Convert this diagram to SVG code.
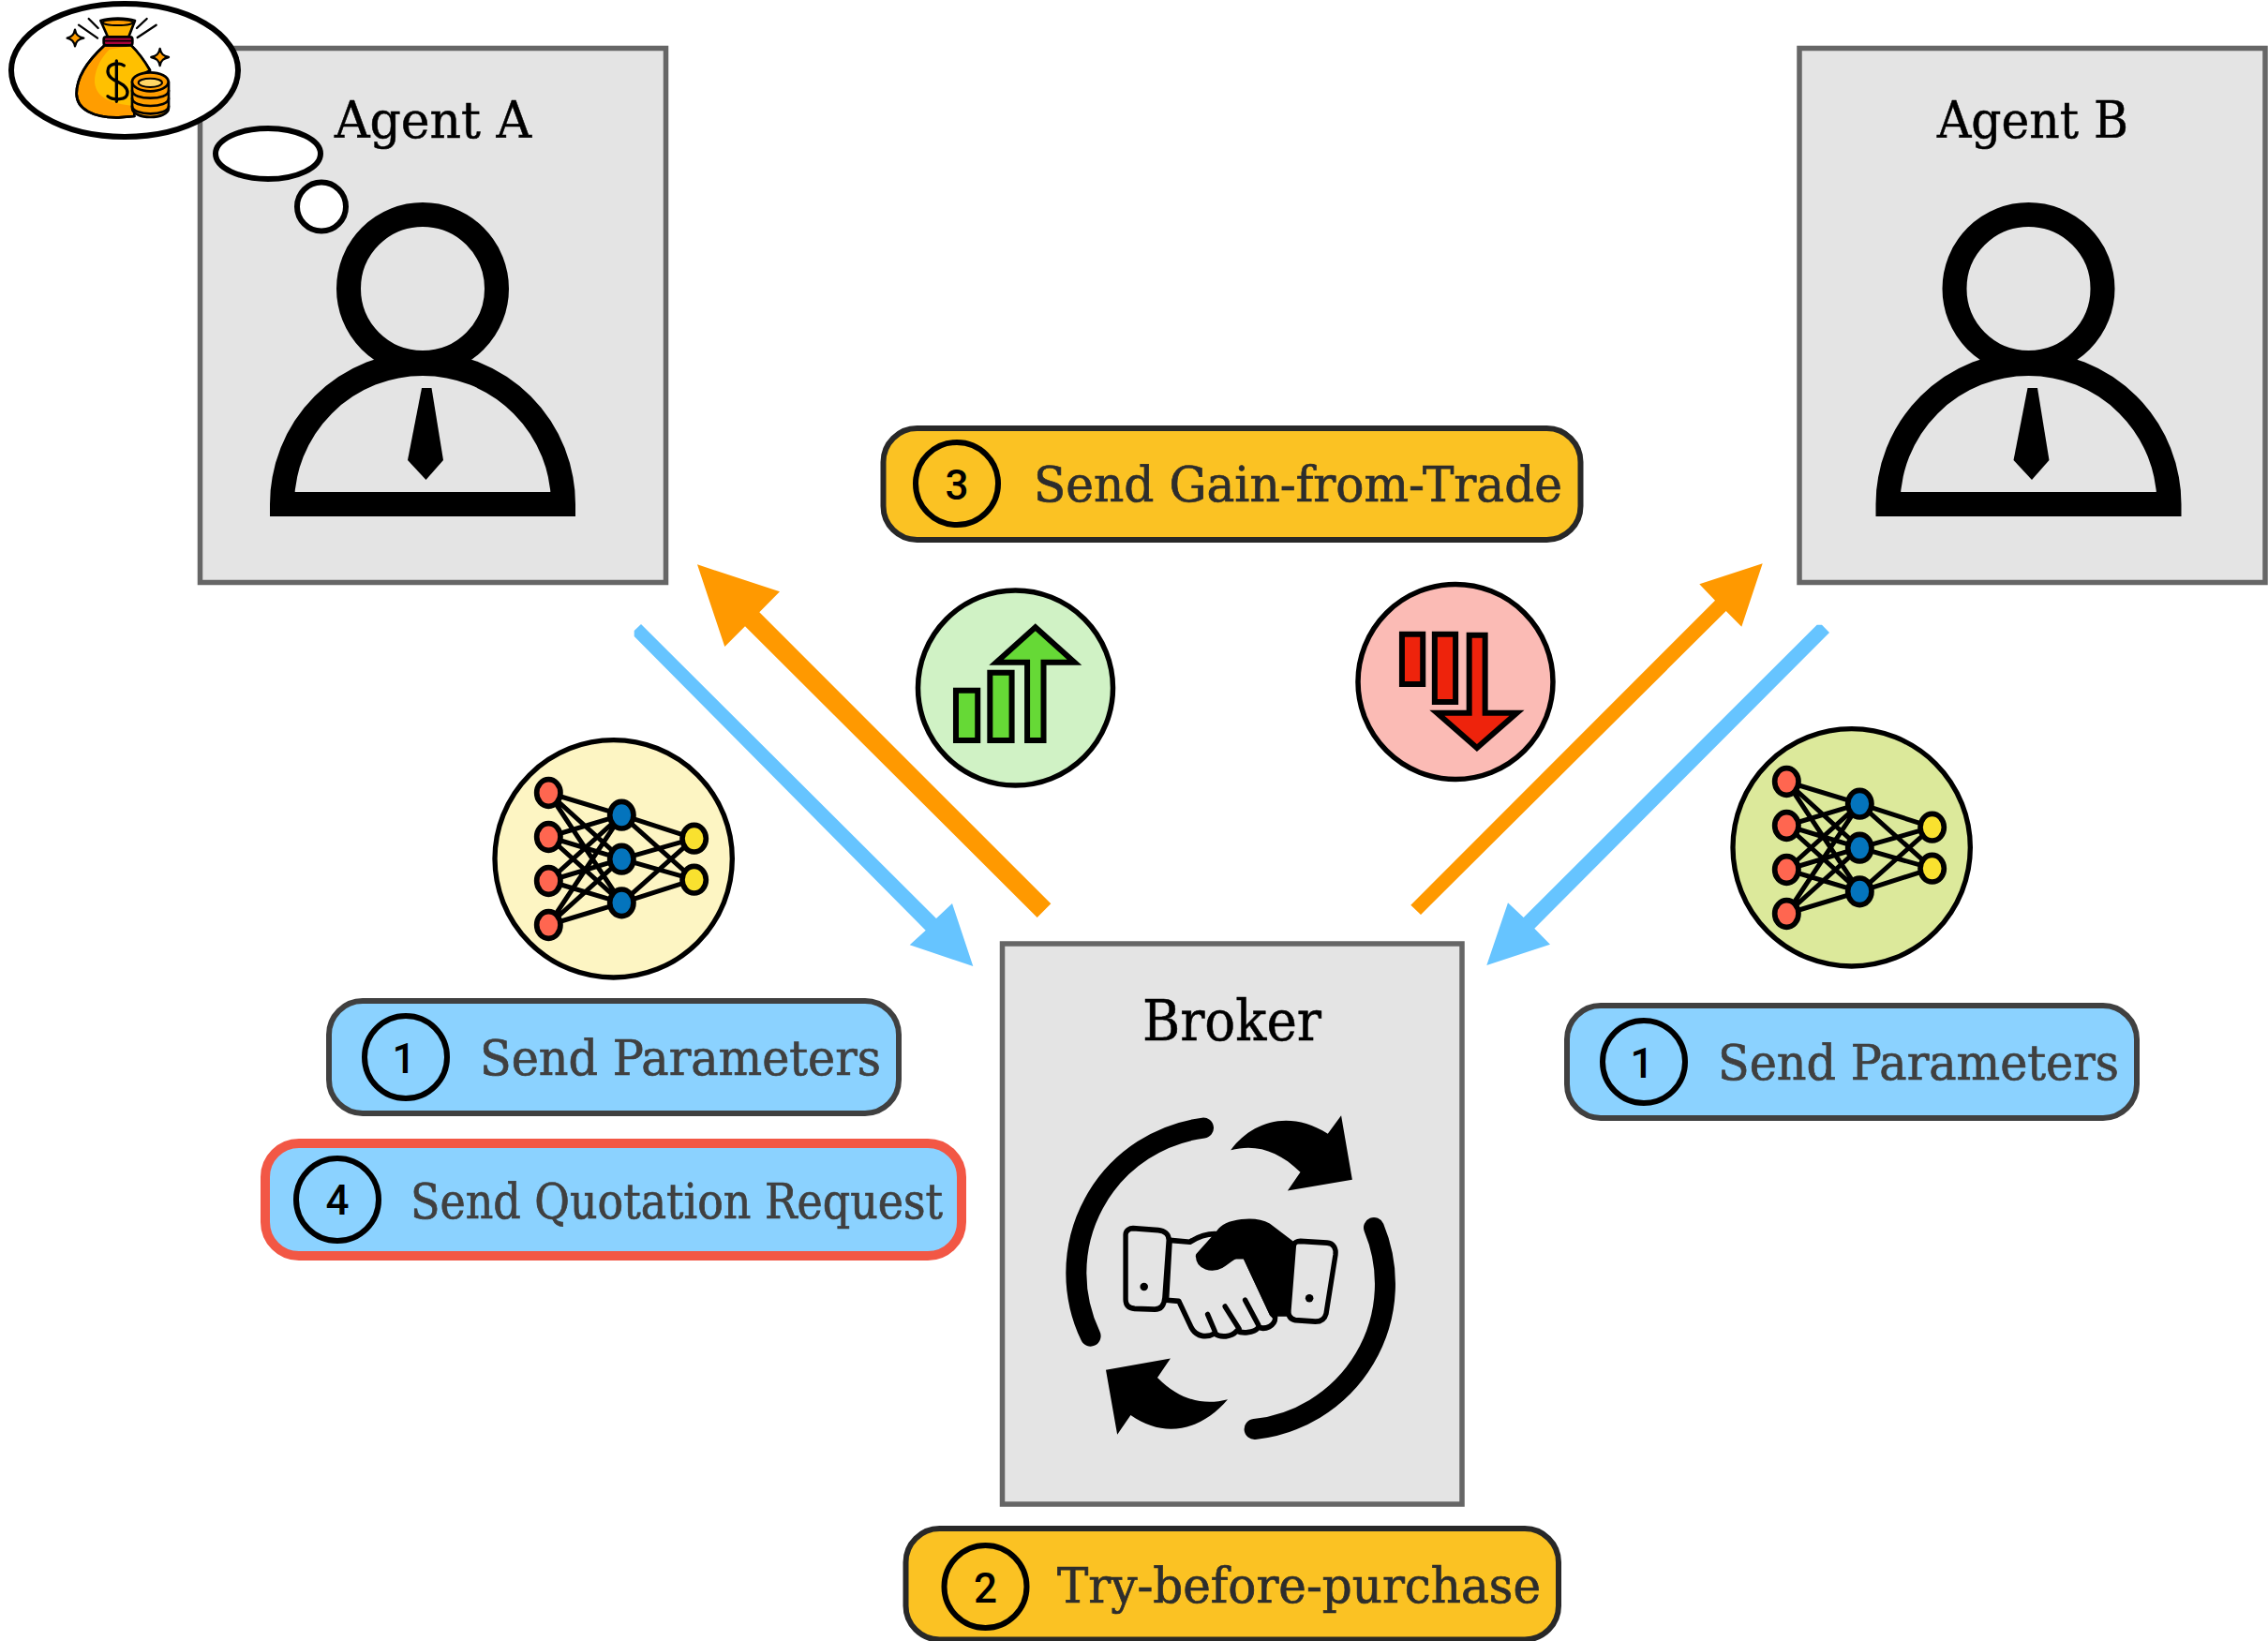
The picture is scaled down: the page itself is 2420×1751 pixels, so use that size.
<svg xmlns="http://www.w3.org/2000/svg" xmlns:xlink="http://www.w3.org/1999/xlink" width="2420" height="1751" viewBox="0 0 2420 1751">
<style>
.box{fill:#e4e4e4;stroke:#666;stroke-width:5.500}
.title{font-family:"DejaVu Serif Condensed","DejaVu Serif",serif;fill:#000;stroke:#000;stroke-width:.5}
.lab{font-family:"DejaVu Serif Condensed","DejaVu Serif",serif;font-size:53px;stroke-width:.7}
.num{font-family:Roboto,"Liberation Sans",sans-serif;font-size:44px;font-weight:500;text-anchor:middle;fill:#000}
.pill{stroke-width:6}
.ring{fill:none;stroke:#000;stroke-width:6}
</style>
<defs>
<g id="person">
<circle cx="451" cy="308" r="79" fill="none" stroke="#000" stroke-width="26"/>
<path d="M301 538A150 150 0 0 1 601 538Z" fill="none" stroke="#000" stroke-width="26"/>
<path d="M450 414H460.500L473 491 454.500 512 435 491Z" fill="#000"/>
</g>
<g id="nn">
<path stroke="#000" stroke-width="15" fill="none" d="M316 258L550 329M316 258L550 470M316 258L550 610M316 399L550 329M316 399L550 470M316 399L550 610M316 540L550 329M316 540L550 470M316 540L550 610M316 681L550 329M316 681L550 470M316 681L550 610M550 329L782 404M550 329L782 536M550 470L782 404M550 470L782 536M550 610L782 404M550 610L782 536"/>
<g stroke="#000" stroke-width="17">
<g fill="#ff6650"><ellipse cx="316" cy="258" rx="38" ry="43"/><ellipse cx="316" cy="399" rx="38" ry="43"/><ellipse cx="316" cy="540" rx="38" ry="43"/><ellipse cx="316" cy="681" rx="38" ry="43"/></g>
<g fill="#0474bd"><ellipse cx="550" cy="329" rx="38" ry="43"/><ellipse cx="550" cy="470" rx="38" ry="43"/><ellipse cx="550" cy="610" rx="38" ry="43"/></g>
<g fill="#f9e12f"><ellipse cx="782" cy="404" rx="38" ry="43"/><ellipse cx="782" cy="536" rx="38" ry="43"/></g>
</g>
</g>
</defs>

<g id="agent-a">
<rect class="box" x="213.500" y="51.500" width="497" height="570"/>
<text class="title" x="357" y="147" font-size="55" textLength="210" lengthAdjust="spacingAndGlyphs">Agent A</text>
<use xlink:href="#person"/>
<ellipse cx="286" cy="164" rx="56" ry="27" fill="#fff" stroke="#000" stroke-width="6"/>
<circle cx="343" cy="220.500" r="26" fill="#fff" stroke="#000" stroke-width="6"/>
</g>

<g id="money-thought">
<ellipse cx="133" cy="75" rx="121" ry="71" fill="#fff" stroke="#000" stroke-width="6"/>
<g transform="scale(.33333)" stroke="#000" stroke-linejoin="round" stroke-linecap="round">
<path d="M335 145C280 195 245 250 245 300C245 350 300 378 380 376L430 372V250L480 225C460 190 440 165 420 145Z" fill="#ff9d00" stroke-width="8"/>
<path d="M350 158C315 195 303 230 303 262C305 300 335 330 420 338V250L478 222C460 190 440 170 418 148Z" fill="#ffc000" stroke="none"/>
<path d="M335 145C280 195 245 250 245 300C245 350 300 378 380 376L430 372M420 145C440 165 460 190 480 225" fill="none" stroke-width="8"/>
<path d="M322 66C350 56 405 56 432 66L412 118H345Z" fill="#ffb400" stroke-width="8"/>
<ellipse cx="377" cy="72" rx="48" ry="9" fill="#ff9d00" stroke-width="6"/>
<rect x="332" y="118" width="92" height="27" rx="8" fill="#a8003a" stroke-width="8"/>
<path d="M332 131H424" stroke-width="5" fill="none"/>
<path d="M397 210C385 200 345 200 345 228C345 262 408 262 408 296C408 322 362 322 345 308M373 195V325" fill="none" stroke-width="10"/>
<path d="M423 262V345C423 385 540 385 540 345V262Z" fill="#ff9d00" stroke-width="8"/>
<path d="M423 290C423 322 540 322 540 290M423 315C423 347 540 347 540 315M423 340C423 372 540 372 540 340" fill="none" stroke-width="8"/>
<ellipse cx="481" cy="262" rx="58" ry="30" fill="#ff9d00" stroke-width="8"/>
<ellipse cx="481" cy="265" rx="38" ry="14" fill="#ffd766" stroke-width="6"/>
<path d="M240 95C243 112 250 119 268 122C250 125 243 132 240 148C237 132 230 125 215 122C230 119 237 112 240 95Z" fill="#ff9d00" stroke-width="7"/>
<path d="M512 156C515 172 522 179 540 183C522 187 515 194 512 210C509 194 502 187 484 183C502 179 509 172 512 156Z" fill="#ff9d00" stroke-width="7"/>
<path d="M252 80L312 122M284 60L314 90M440 120L500 80M438 90L470 60" fill="none" stroke-width="7"/>
</g>
</g>

<g id="agent-b">
<rect class="box" x="1920" y="51.500" width="497" height="570"/>
<text class="title" x="2067" y="147" font-size="55" textLength="204" lengthAdjust="spacingAndGlyphs">Agent B</text>
<use xlink:href="#person" x="1713.500"/>
</g>

<g id="broker">
<rect class="box" x="1069.500" y="1007" width="490.500" height="598"/>
<text class="title" x="1219" y="1110" font-size="59" textLength="191" lengthAdjust="spacingAndGlyphs">Broker</text>
<path d="M1284 1203.600A156 156 0 0 0 1163.600 1425.600M1466 1310A156 156 0 0 1 1338.600 1525" fill="none" stroke="#000" stroke-width="22" stroke-linecap="round"/>
<g transform="translate(1050 1000) scale(.35714 .38265)">
<path d="M737 594C800 515 910 480 1027 548L1067 497 1100 676 907 707 945 655C880 595 810 575 737 594Z"/>
<path d="M728 1289C650 1375 540 1400 438 1333L398 1387 364 1207 557 1175 518 1228C590 1295 660 1305 728 1289Z"/>
<g fill="#e4e4e4" stroke="#000" stroke-width="15" stroke-linejoin="round">
<path d="M555 845L615 850C640 835 665 825 700 828L640 890 780 890 860 1050 870 1060C870 1085 840 1095 820 1088C805 1105 770 1105 755 1098C740 1115 705 1118 690 1105C665 1118 635 1115 620 1090L582 1015 545 1012Z"/>
<path d="M700 825C725 790 810 785 850 805L920 855 910 1050 860 1050 780 890C760 875 735 900 710 915C680 930 640 920 640 888Z" fill="#000"/>
<path d="M668 1052L690 1100M720 1030L762 1092M780 1012L820 1082" fill="none" stroke-linecap="round"/>
<path d="M423 830C423 818 435 812 445 812L520 817C540 818 553 830 552 845L540 1005C538 1030 525 1038 510 1038L450 1036C430 1034 423 1025 423 1010Z"/>
<path d="M925 862C925 852 935 848 945 848L1025 852C1045 853 1052 870 1050 885L1022 1050C1018 1065 1005 1072 990 1072L930 1068C915 1065 908 1055 910 1040Z"/>
</g>
<ellipse cx="478" cy="975" rx="12" ry="11"/><ellipse cx="972" cy="1007" rx="12" ry="11"/>
</g>
</g>

<g id="connectors">
<path d="M684 666L999 980 1016 964 1038.300 1031 970.700 1008.300 987.700 992.700 676.700 679V673Z" fill="#66c4ff"/>
<path d="M744 602.300L832 631.300 810.300 653.300 1121.300 964.300 1106.700 979 795 668.300 773.300 690Z" fill="#ff9900"/>
<path d="M1505.300 965.700L1830 640.700 1813.300 623.300 1880.700 601.300 1858.300 668.700 1841.700 652 1516 976Z" fill="#ff9900"/>
<path d="M1938.700 666.700H1944L1952 675 1637.300 990.700 1654 1007.700 1586.300 1030 1609 963.300 1625.700 979Z" fill="#66c4ff"/>
</g>

<g id="nn-left">
<g transform="translate(480 760) scale(.33333)"><circle cx="524" cy="469" r="380" fill="#fdf5c3" stroke="#000" stroke-width="16"/><use xlink:href="#nn"/></g>
</g>
<g id="nn-right">
<g transform="translate(1801 748) scale(.33333)"><circle cx="524" cy="469" r="380" fill="#dce99b" stroke="#000" stroke-width="16"/><use xlink:href="#nn"/></g>
</g>

<g id="gain-up">
<circle cx="1083.500" cy="734" r="104" fill="#d0f2c5" stroke="#000" stroke-width="5.500"/>
<g transform="translate(940 430) scale(.48469 .33333)" fill="#66d936" stroke="#000">
<rect x="165" y="920" width="48" height="160" vector-effect="non-scaling-stroke" stroke-width="6"/>
<rect x="240" y="863" width="48" height="217" vector-effect="non-scaling-stroke" stroke-width="6"/>
<path d="M322 1080H358V830H426L340 718 254 830H322Z" vector-effect="non-scaling-stroke" stroke-width="6"/>
</g>
</g>

<g id="loss-down">
<circle cx="1553" cy="727.500" r="104" fill="#fbbbb5" stroke="#000" stroke-width="5.500"/>
<g transform="translate(940 430) scale(.48469 .33333)" fill="#ee230c" stroke="#000">
<rect x="1147" y="740" width="46" height="160" vector-effect="non-scaling-stroke" stroke-width="6"/>
<rect x="1219" y="740" width="46" height="217" vector-effect="non-scaling-stroke" stroke-width="6"/>
<path d="M1295 743H1330V992H1400L1312 1104 1224 992H1295Z" vector-effect="non-scaling-stroke" stroke-width="6"/>
</g>
</g>

<g id="label-3">
<rect class="pill" x="942.500" y="457" width="744" height="119" rx="36" fill="#fbc223" stroke="#282828"/>
<circle class="ring" cx="1021" cy="516" r="44"/>
<text class="num" x="1021" y="533">3</text>
<text class="lab" x="1103" y="535" fill="#2d2d2d" stroke="#2d2d2d" textLength="564" lengthAdjust="spacingAndGlyphs">Send Gain-from-Trade</text>
</g>

<g id="label-1-left">
<rect class="pill" x="351" y="1068" width="608" height="120" rx="36" fill="#8bd2ff" stroke="#404040"/>
<circle class="ring" cx="433" cy="1128" r="44"/>
<text class="num" x="431" y="1145">1</text>
<text class="lab" x="512" y="1147" fill="#404040" stroke="#404040" textLength="428" lengthAdjust="spacingAndGlyphs">Send Parameters</text>
</g>

<g id="label-4">
<rect x="283" y="1220" width="743" height="120" rx="36" fill="#8bd2ff" stroke="#f25745" stroke-width="10"/>
<circle class="ring" cx="360" cy="1280" r="44"/>
<text class="num" x="360" y="1296">4</text>
<text class="lab" x="438" y="1300" fill="#404040" stroke="#404040" textLength="568" lengthAdjust="spacingAndGlyphs">Send Quotation Request</text>
</g>

<g id="label-1-right">
<rect class="pill" x="1672" y="1073" width="608" height="120" rx="36" fill="#8bd2ff" stroke="#404040"/>
<circle class="ring" cx="1754" cy="1133" r="44"/>
<text class="num" x="1752" y="1150">1</text>
<text class="lab" x="1833" y="1152" fill="#404040" stroke="#404040" textLength="428" lengthAdjust="spacingAndGlyphs">Send Parameters</text>
</g>

<g id="label-2">
<rect class="pill" x="966.500" y="1631" width="696.500" height="118.500" rx="36" fill="#fbc223" stroke="#282828"/>
<circle class="ring" cx="1051.500" cy="1693" r="44"/>
<text class="num" x="1051.500" y="1710">2</text>
<text class="lab" x="1128" y="1710" fill="#2d2d2d" stroke="#2d2d2d" textLength="516" lengthAdjust="spacingAndGlyphs">Try-before-purchase</text>
</g>
</svg>
